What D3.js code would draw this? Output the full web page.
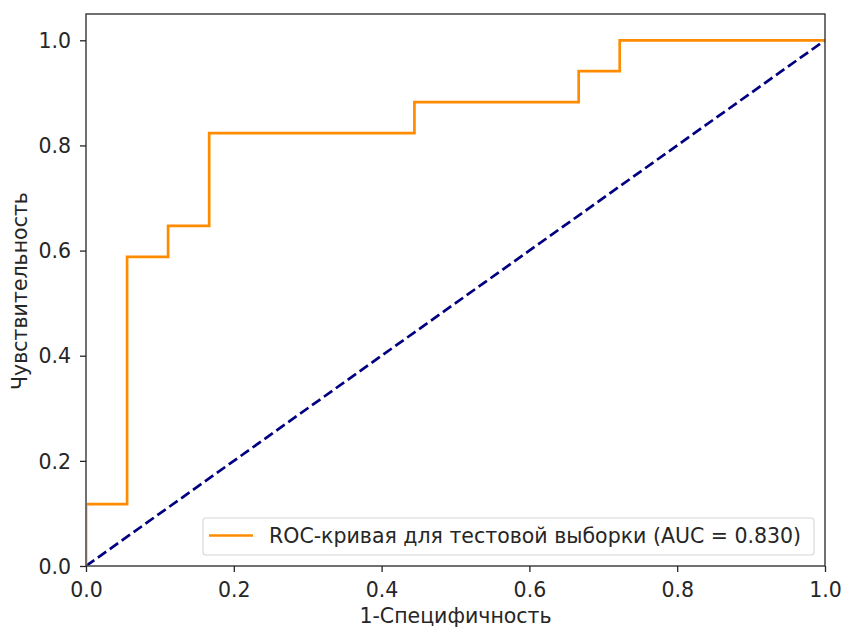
<!DOCTYPE html>
<html><head><meta charset="utf-8">
<script src="https://cdn.jsdelivr.net/npm/d3@7"></script>
<style>body{margin:0;background:#fff}svg{display:block}</style>
</head><body><svg id="c" width="843" height="628"></svg>
<script>
const fpr = [0, 0, 0.0556, 0.0556, 0.1111, 0.1111, 0.1667, 0.1667, 0.4444, 0.4444, 0.6667, 0.6667, 0.7222, 0.7222, 1.0];
const tpr = [0, 0.1176, 0.1176, 0.5882, 0.5882, 0.6471, 0.6471, 0.8235, 0.8235, 0.8824, 0.8824, 0.9412, 0.9412, 1.0, 1.0];
const diagX = [0, 1];
const diagY = [0, 1];
const xTicks = [0, 0.2, 0.4, 0.6, 0.8, 1.0];
const yTicks = [0, 0.2, 0.4, 0.6, 0.8, 1.0];
const legendLabel = "ROC-кривая для тестовой выборки (AUC = 0.830)";
const xLabel = "1-Специфичность";
const yLabel = "Чувствительность";

const FONT = "'DejaVu Sans', 'Noto Sans', sans-serif";
const svg = d3.select("#c");
const L = 86, R = 825, T = 14, B = 566;
const fs = 20.5;
const x = d3.scaleLinear().domain([0, 1]).range([L, R]);
const y = d3.scaleLinear().domain([0, 1.05]).range([B, T]);

svg.append("defs").append("clipPath").attr("id", "clip")
  .append("rect").attr("x", L + 0.8).attr("y", T).attr("width", R - L - 0.8).attr("height", B - T - 0.6);

const g = svg.append("g").attr("clip-path", "url(#clip)");
const line = d3.line().x(d => x(d[0])).y(d => y(d[1]));

g.append("path").datum(diagX.map((v, i) => [v, diagY[i]]))
  .attr("d", line).attr("fill", "none").attr("stroke", "#000080")
  .attr("stroke-width", 2.7).attr("stroke-dasharray", "10.2,4.4");
g.append("path").datum(fpr.map((v, i) => [v, tpr[i]]))
  .attr("d", line).attr("fill", "none").attr("stroke", "#ff8c00")
  .attr("stroke-width", 2.7).attr("stroke-linejoin", "miter");

const xa = svg.append("g").attr("transform", `translate(0,${B})`)
  .call(d3.axisBottom(x).tickValues(xTicks).tickFormat(d3.format(".1f")).tickSize(6).tickPadding(10));
const ya = svg.append("g").attr("transform", `translate(${L},0)`)
  .call(d3.axisLeft(y).tickValues(yTicks).tickFormat(d3.format(".1f")).tickSize(6).tickPadding(9));
[xa, ya].forEach(a => {
  a.attr("font-family", null).attr("font-size", null);
  a.select(".domain").remove();
  a.selectAll("line").attr("stroke", "#262626").attr("stroke-width", 1.3);
  a.selectAll("text").style("font-family", FONT).style("font-size", fs + "px").attr("fill", "#262626");
});
ya.selectAll("text").attr("dy", "0.35em");

svg.append("rect").attr("x", L).attr("y", T).attr("width", R - L).attr("height", B - T)
  .attr("fill", "none").attr("stroke", "#262626").attr("stroke-width", 1.3);

svg.append("text").attr("x", (L + R) / 2).attr("y", 623).attr("text-anchor", "middle")
  .style("font-family", FONT).style("font-size", fs + "px").attr("fill", "#262626").text(xLabel);
svg.append("text").attr("transform", `translate(27,${(T + B) / 2 + 1}) rotate(-90)`).attr("text-anchor", "middle")
  .style("font-family", FONT).style("font-size", fs + "px").attr("fill", "#262626").text(yLabel);

const lg = svg.append("g");
lg.append("rect").attr("x", 203).attr("y", 518).attr("width", 611).attr("height", 37)
  .attr("rx", 3).attr("fill", "#fff").attr("fill-opacity", 0.8).attr("stroke", "#d6d6d6").attr("stroke-width", 1.1);
lg.append("line").attr("x1", 209).attr("x2", 253).attr("y1", 535.5).attr("y2", 535.5)
  .attr("stroke", "#ff8c00").attr("stroke-width", 2.7);
lg.append("text").attr("x", 269).attr("y", 535.5).attr("dy", "0.35em")
  .style("font-family", FONT).style("font-size", fs + "px").attr("fill", "#262626").text(legendLabel);
</script></body></html>
